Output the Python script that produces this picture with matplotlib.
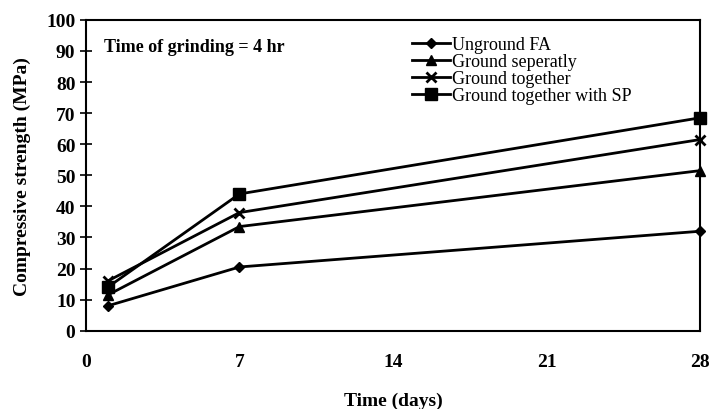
import matplotlib
matplotlib.use("Agg")
import matplotlib.pyplot as plt

days = [1, 7, 28]
unground_fa = [8.0, 20.5, 32.0]
ground_separately = [11.5, 33.5, 51.5]
ground_together = [16.0, 38.0, 61.5]
ground_together_sp = [14.0, 44.0, 68.5]
labels = ["Unground FA", "Ground seperatly", "Ground together", "Ground together with SP"]
xticks = [0, 7, 14, 21, 28]
yticks = list(range(0, 101, 10))

plt.rcParams['font.family'] = ['Liberation Serif', 'DejaVu Serif']

fig = plt.figure(figsize=(7.1, 4.1), dpi=100)
ax = fig.add_axes([0.121, 0.191, 0.865, 0.758])

kw = dict(color='black', lw=2, clip_on=False)
ax.plot(days, unground_fa, marker='D', ms=5, label=labels[0], **kw)
ax.plot(days, ground_separately, marker='^', ms=7, label=labels[1], **kw)
ax.plot(days, ground_together, marker='x', ms=7, mew=2, label=labels[2], **kw)
ax.plot(days, ground_together_sp, marker='s', ms=8, label=labels[3], **kw)

ax.set_xlim(0, 28)
ax.set_ylim(0, 100)
ax.set_xticks(xticks)
ax.set_yticks(yticks)
ax.tick_params(axis='y', direction='inout', length=8, width=1.2, labelsize=14)
ax.tick_params(axis='x', length=0, pad=16, labelsize=14)
for lab in ax.get_xticklabels() + ax.get_yticklabels():
    lab.set_fontweight('bold')
for s in ax.spines.values():
    s.set_linewidth(1.5)

ax.set_xlabel("Time (days)", fontsize=14, fontweight='bold', labelpad=16)
ax.set_ylabel("Compressive strength (MPa)", fontsize=14, fontweight='bold', labelpad=11)

ax.text(0.03, 0.915, "Time of grinding = 4 hr", transform=ax.transAxes,
        fontsize=13, fontweight='bold', va='center', ha='left')

leg = ax.legend(loc='upper left', bbox_to_anchor=(0.52, 0.97), frameon=False,
                fontsize=13, handlelength=2.1, handletextpad=0.1,
                labelspacing=0.0, borderaxespad=0)

fig.savefig("out.png", dpi=100)
